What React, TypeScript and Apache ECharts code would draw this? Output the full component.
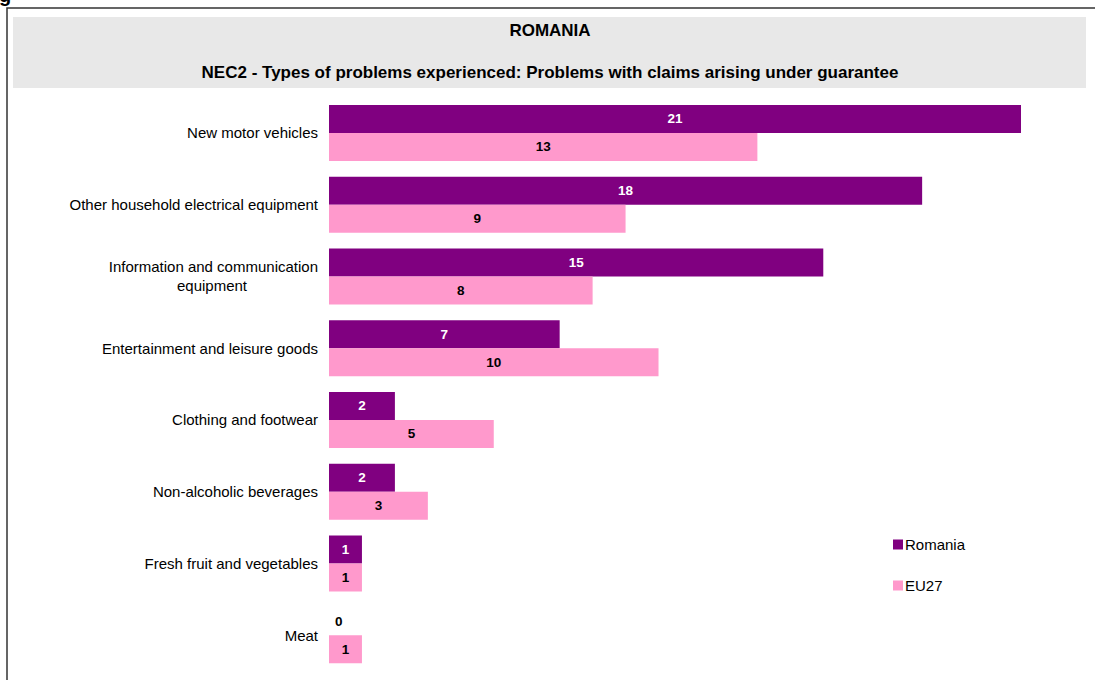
import React, { useEffect, useRef } from "react";
import * as echarts from "echarts";

const categories = [
  "New motor vehicles",
  "Other household electrical equipment",
  "Information and communication\nequipment",
  "Entertainment and leisure goods",
  "Clothing and footwear",
  "Non-alcoholic beverages",
  "Fresh fruit and vegetables",
  "Meat",
];
const romania = [21, 18, 15, 7, 2, 2, 1, 0];
const eu27 = [13, 9, 8, 10, 5, 3, 1, 1];
const seriesNames = ["Romania", "EU27"];
const titleText = "ROMANIA";
const subtitleText = "NEC2 - Types of problems experienced: Problems with claims arising under guarantee";

const FONT = "'Liberation Sans', Arial, sans-serif";

export default function App() {
  const ref = useRef<HTMLDivElement>(null);
  useEffect(() => {
    if (!ref.current) return;
    const chart = echarts.init(ref.current, null, { renderer: "svg" });
    chart.setOption({
      animation: false,
      textStyle: { fontFamily: FONT },
      graphic: [
        {
          type: "text",
          left: -1,
          top: -15,
          style: { text: "g", font: `bold 20px ${FONT}`, fill: "#000" },
        },
        {
          type: "rect",
          shape: { x: 7, y: 8, width: 1200, height: 800 },
          style: { fill: "none", stroke: "#333", lineWidth: 1.5 },
          z: -10,
        },
        {
          type: "rect",
          shape: { x: 13, y: 17, width: 1073, height: 71 },
          style: { fill: "#e8e8e8" },
          z: -9,
        },
        {
          type: "text",
          x: 550,
          y: 30,
          style: {
            text: titleText,
            font: `bold 17px ${FONT}`,
            fill: "#000",
            align: "center",
            verticalAlign: "middle",
          },
        },
        {
          type: "text",
          x: 550,
          y: 72,
          style: {
            text: subtitleText,
            font: `bold 17px ${FONT}`,
            fill: "#000",
            align: "center",
            verticalAlign: "middle",
          },
        },
      ],
      legend: {
        orient: "vertical",
        left: 888,
        top: 532,
        itemWidth: 10,
        itemHeight: 10,
        itemGap: 26,
        icon: "rect",
        textStyle: { fontSize: 15, color: "#000", fontFamily: FONT, padding: [0, 0, 0, -3] },
        data: seriesNames,
      },
      grid: { left: 329, top: 97, width: 692, height: 574, containLabel: false },
      xAxis: {
        type: "value",
        min: 0,
        max: 21,
        show: false,
        splitLine: { show: false },
      },
      yAxis: {
        type: "category",
        inverse: true,
        data: categories,
        axisLine: { show: false },
        axisTick: { show: false },
        axisLabel: {
          fontSize: 15,
          color: "#000",
          fontFamily: FONT,
          margin: 11,
          align: "right",
          lineHeight: 19,
          formatter: (v: string) => {
            if (v.includes("\n")) {
              const [a, b] = v.split("\n");
              return `${a}\n{c|${b}}`;
            }
            return v;
          },
          rich: { c: { fontSize: 15, color: "#000", fontFamily: FONT, align: "center", width: 212, lineHeight: 19 } },
        },
      },
      series: [
        {
          name: seriesNames[0],
          type: "bar",
          data: romania.map((v) =>
            v === 0
              ? { value: v, label: { position: "right", color: "#000", distance: 6 } }
              : v
          ),
          itemStyle: { color: "#800080" },
          barWidth: 28,
          barGap: "0%",
          label: {
            show: true,
            position: "inside",
            color: "#fff",
            fontWeight: "bold",
            fontSize: 13.5,
            fontFamily: FONT,
          },
        },
        {
          name: seriesNames[1],
          type: "bar",
          data: eu27,
          itemStyle: { color: "#ff99cc" },
          barWidth: 28,
          barGap: "0%",
          label: {
            show: true,
            position: "inside",
            color: "#000",
            fontWeight: "bold",
            fontSize: 13.5,
            fontFamily: FONT,
          },
        },
      ],
    });
    return () => chart.dispose();
  }, []);
  return (
    <div
      ref={ref}
      style={{ position: "fixed", left: 0, top: 0, width: 1095, height: 680, background: "#fff" }}
    />
  );
}
